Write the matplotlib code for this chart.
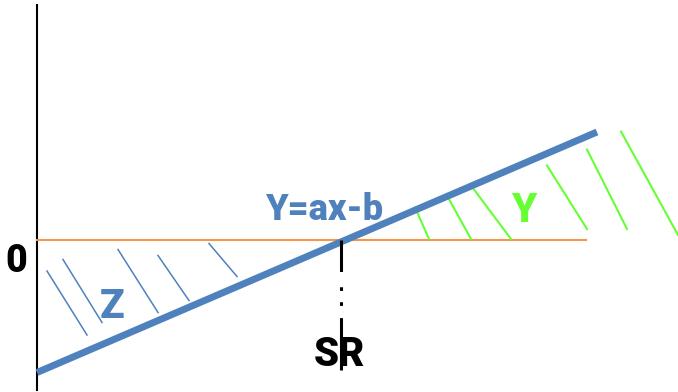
import matplotlib.pyplot as plt

plt.rcParams['font.family'] = ['Roboto', 'DejaVu Sans']

# coordinates: origin where the vertical axis meets the zero line, y up
line_x = [0, 560]
line_y = [-133, 107.5]
zero_len = 549
axis_top, axis_bottom = 234.5, -150.5
sr_x = 304
sr_y = [-0.5, -130.5]

# hatch strokes: x0, y0, x1, y1
hatch_z = [
    (10, -31.5, 50, -95.5),
    (26, -20, 65, -83),
    (81, -10, 121, -73),
    (121, -16, 152, -61),
    (172, -4, 200, -37),
]
hatch_y = [
    (378, 32, 392, 0.5),
    (410, 44, 434, 0.5),
    (434, 54, 474, 0.5),
    (510, 74, 550, 10.5),
    (550, 90, 590, 10.5),
    (584, 108, 641, 4.5),
]

blue = '#4F81BD'
orange = '#F79646'
green = '#66FF33'

fig = plt.figure(figsize=(6.78, 3.92), dpi=100)
ax = fig.add_axes([0, 0, 1, 1])
ax.set_xlim(-37, 641)
ax.set_ylim(-152.5, 239.5)
ax.axis('off')

ax.plot([0, 0], [axis_bottom, axis_top], color='black', lw=1.5)
ax.plot([0, zero_len], [0, 0], color=orange, lw=1.5)

for x0, y0, x1, y1 in hatch_z:
    ax.plot([x0, x1], [y0, y1], color=blue, lw=1.1)
for x0, y0, x1, y1 in hatch_y:
    ax.plot([x0, x1], [y0, y1], color=green, lw=1.5)

ax.plot(line_x, line_y, color=blue, lw=5, solid_capstyle='butt')

ax.plot([sr_x, sr_x], sr_y, color='black', lw=2.2, dash_capstyle='butt',
        dashes=(10.3, 5, 1.2, 3.7, 1.2, 4, 18.3, 10))

ax.text(-20.7, -22, '0', fontsize=27, fontweight='black', color='black',
        ha='center', va='center')
ax.text(74.7, -66.5, 'Z', fontsize=29, fontweight='black', color=blue,
        ha='center', va='center')
ax.text(287, 29.5, 'Y=ax-b', fontsize=26, fontweight='black', color=blue,
        ha='center', va='center')
ax.text(487, 29, 'Y', fontsize=29, fontweight='black', color=green,
        ha='center', va='center')
ax.text(302, -115.5, 'SR', fontsize=29, fontweight='black', color='black',
        ha='center', va='center')

fig.savefig('out.png', dpi=100)
